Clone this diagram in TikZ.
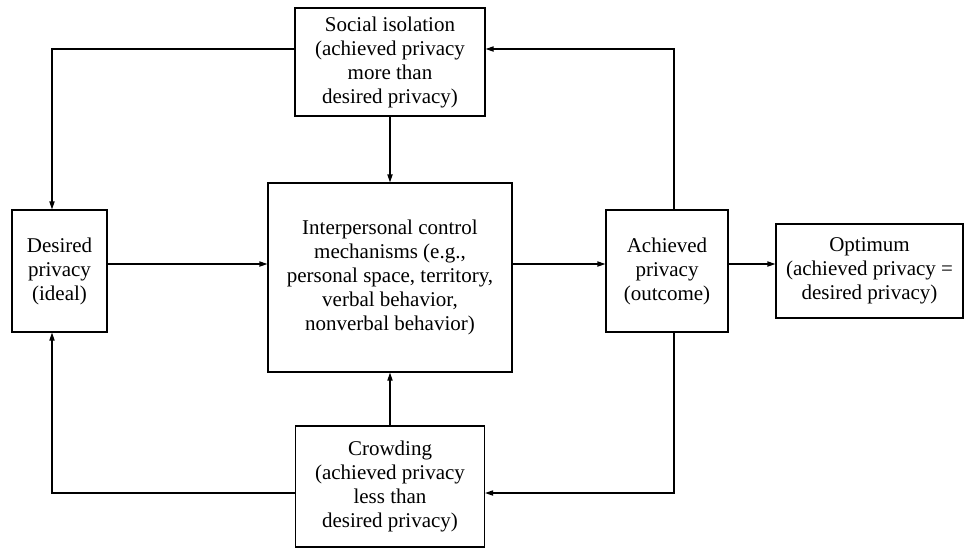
\documentclass[tikz,border=0pt]{standalone}
\usepackage{fontspec}
\setmainfont{Liberation Serif}
\usetikzlibrary{arrows.meta,positioning}

\begin{document}
\begin{tikzpicture}[
    x=0.5pt, y=-0.5pt,
    box/.style={draw, line width=0.6pt, inner sep=0pt, align=center, font=\fontsize{10.5}{12}\selectfont},
    arr/.style={-{Triangle[length=4pt, width=2.6pt]}, line width=0.6pt}
]
\useasboundingbox (0,0) rectangle (964,548);
\node[box, minimum width=95pt, minimum height=54pt] (soc) at (390,62) {Social isolation\\(achieved privacy\\more than\\desired privacy)};
\node[box, minimum width=47.5pt, minimum height=61pt] (des) at (59.5,271) {Desired\\privacy\\(ideal)};
\node[box, minimum width=122pt, minimum height=94.5pt] (ctrl) at (390,277.5) {Interpersonal control\\mechanisms (e.g.,\\personal space, territory,\\verbal behavior,\\nonverbal behavior)};
\node[box, minimum width=61pt, minimum height=61pt] (ach) at (667,271) {Achieved\\privacy\\(outcome)};
\node[box, minimum width=93.5pt, minimum height=47pt] (opt) at (869.5,271) {Optimum\\(achieved privacy =\\desired privacy)};
\node[box, minimum width=94.5pt, minimum height=60.5pt] (crowd) at (390,486.5) {Crowding\\(achieved privacy\\less than\\desired privacy)};

% corners of the feedback loops
\coordinate (tl) at (52,49);
\coordinate (tr) at (674,49);
\coordinate (bl) at (52,493);
\coordinate (br) at (674,493);

\draw[arr] (soc.west |- tl) -- (tl) -- (tl |- des.north);
\draw[arr] (tr |- ach.north) -- (tr) -- (soc.east |- tr);
\draw[arr] (soc) -- (ctrl);
\draw[arr] (des.east |- 0,264) -- (ctrl.west |- 0,264);
\draw[arr] (ctrl.east |- 0,264) -- (ach.west |- 0,264);
\draw[arr] (ach.east |- 0,264) -- (opt.west |- 0,264);
\draw[arr] (br |- ach.south) -- (br) -- (crowd.east |- br);
\draw[arr] (crowd) -- (ctrl);
\draw[arr] (crowd.west |- bl) -- (bl) -- (bl |- des.south);
\end{tikzpicture}
\end{document}
